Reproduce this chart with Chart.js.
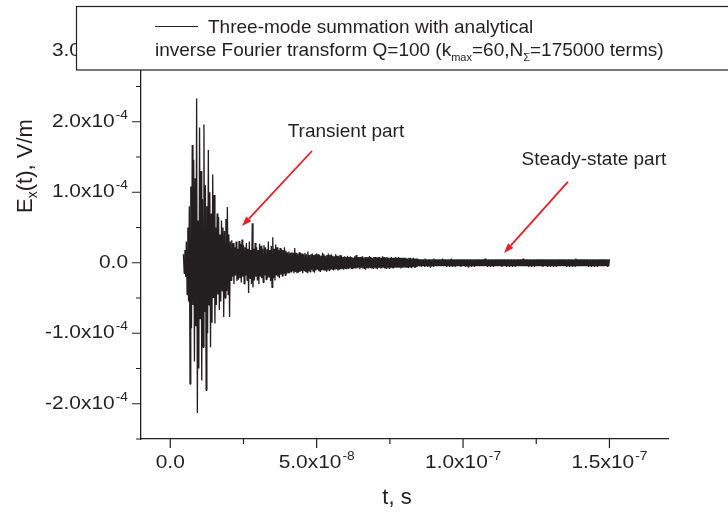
<!DOCTYPE html>
<html lang="en">
<head>
<meta charset="UTF-8" />
<title>Three-mode summation – Ex(t)</title>
<script src="https://cdn.jsdelivr.net/npm/chart.js"></script>
<style>
  html, body { margin: 0; padding: 0; background: #fff; }
  canvas { display: block; }
</style>
</head>
<body>
<canvas id="exChart" width="728" height="517"></canvas>
<script>
  // field samples in µV/m, one every 0.25 ns starting at 4.5 ns
  // each row below covers 5 ns
  const tStart = 4.5e-9;
  const tStep = 0.25e-9;
  const exMicro = [
    12, -15, 18, -20, 30, -45, 50, -55, 80, -172, 108, -93, 167, -60, 146, -140, 120, -90, 233, -213,
    60, -150, 192, -80, 130, -167, 90, -120, 196, -70, 110, -181, 80, -100, 160, -60, 100, -120, 70, -85,
    125, -50, 96, -86, 50, -60, 70, -45, 65, -67, 40, -55, 60, -40, 50, -77, 45, -50, 62, -40,
    79, -45, 40, -77, 30, -25, 32, -20, 28, -30, 22, -18, 30, -26, 20, -24, 31, -22, 27, -28,
    33, -20, 25, -30, 22, -18, 28, -25, 20, -43, 30, -22, 18, -30, 56, -35, 20, -25, 28, -20,
    22, -25, 18, -30, 27, -20, 24, -22, 20, -28, 25, -18, 22, -24, 19, -22, 30, -20, 18, -26,
    24, -35, 36, -22, 20, -25, 26, -18, 22, -20, 18, -22, 21, -17, 19, -19, 18, -16, 22, -18,
    17, -16, 15, -14, 16, -15, 14, -13, 15, -12, 14, -15, 21, -13, 14, -15, 12, -14, 15, -13,
    14, -12, 13, -15, 12, -11, 14, -13, 12, -14, 16, -12, 11, -13, 12, -10, 13, -12, 11, -14,
    12, -11, 13, -10, 12, -12, 11, -13, 10, -11, 14, -10, 12, -11, 10, -12, 11, -10, 13, -11,
    11, -10, 12, -9, 10, -11, 9, -10, 12, -9, 10, -11, 9, -10, 11, -9, 10, -9, 8, -10,
    9, -8, 8, -9, 10, -8, 8, -7, 9, -8, 8, -9, 7, -8, 9, -8, 11, -8, 8, -7,
    8, -9, 8, -7, 9, -8, 7, -8, 8, -10, 8, -7, 8, -8, 9, -7, 8, -8, 7, -8,
    8, -7, 8, -8, 7, -9, 8, -7, 8, -8, 7, -8, 9, -7, 8, -8, 7, -8, 8, -7,
    7, -8, 7, -7, 8, -7, 7, -8, 7, -7, 8, -7, 7, -7, 8, -7, 7, -8, 7, -7,
    7, -7, 7, -6, 7, -7, 6, -7, 7, -6, 7, -7, 6, -6, 7, -6, 6, -7, 6, -6,
    6, -5, 5, -5, 5, -6, 5, -5, 5, -5, 6, -5, 5, -5, 5, -5, 5, -6, 5, -5,
    5, -5, 6, -5, 5, -5, 5, -5, 5, -5, 5, -5, 5, -5, 6, -5, 5, -5, 5, -5,
    5, -5, 5, -5, 5, -5, 6, -5, 5, -5, 5, -5, 5, -5, 5, -5, 5, -5, 5, -6,
    5, -5, 5, -5, 5, -5, 5, -5, 5, -6, 5, -5, 5, -5, 5, -5, 5, -5, 5, -5,
    5, -5, 5, -5, 5, -5, 5, -5, 5, -5, 5, -5, 6, -5, 5, -5, 5, -5, 5, -5,
    5, -5, 5, -5, 5, -5, 5, -5, 5, -5, 5, -5, 5, -5, 5, -6, 5, -5, 5, -5,
    5, -5, 5, -5, 5, -5, 5, -5, 5, -5, 5, -5, 5, -5, 5, -5, 5, -5, 5, -5,
    5, -5, 5, -5, 6, -5, 5, -5, 5, -5, 5, -5, 5, -5, 5, -5, 5, -5, 5, -5,
    5, -5, 5, -5, 5, -5, 5, -5, 5, -5, 5, -6, 5, -5, 5, -5, 5, -5, 5, -5,
    5, -5, 5, -5, 5, -5, 5, -5, 5, -5, 5, -5, 5, -5, 5, -5, 5, -5, 5, -5,
    5, -5, 5, -5, 5, -5, 5, -5, 5, -5, 5, -5, 5, -5, 5, -5, 6, -5, 5, -5,
    5, -5, 5, -5, 5, -5, 5, -5, 5, -5, 5, -5, 5, -5, 5, -5, 5, -5, 5, -5,
    5, -5, 5, -5, 5, -5, 5, -5, 5, -5, 5, -5, 5, -5, 5, -5, 5, -5, 5, -5,
    5, -5, 5
  ];

  // axes
  const xMin = -1e-8, xMax = 1.7e-7;
  const yMin = -2.5e-4, yMax = 3.5e-4;
  const xMajor = [0, 5e-8, 1e-7, 1.5e-7];
  const xLabels = ['0.0', '5.0x10', '1.0x10', '1.5x10'];
  const xExps = ['', '-8', '-7', '-7'];
  const xMinor = [2.5e-8, 7.5e-8, 1.25e-7];
  const yMajor = [-2e-4, -1e-4, 0, 1e-4, 2e-4, 3e-4];
  const yLabels = ['-2.0x10', '-1.0x10', '0.0', '1.0x10', '2.0x10', '3.0x10'];
  const yExps = ['-4', '-4', '', '-4', '-4', '-4'];
  const yMinor = [-2.5e-4, -1.5e-4, -0.5e-4, 0.5e-4, 1.5e-4, 2.5e-4];

  // annotations, in data units: [tailT, tailE, headT, headE]
  const arrows = [
    [48.4e-9, 1.585e-4, 24.5e-9, 0.52e-4],
    [135.8e-9, 1.146e-4, 114e-9, 0.138e-4]
  ];
  const notes = [
    ['Transient part', 60e-9, 1.855e-4],
    ['Steady-state part', 144.7e-9, 1.457e-4]
  ];

  const FONT = '"Liberation Sans", Arial, sans-serif';
  const INK = '#231f20';

  const points = exMicro.map((v, i) => ({ x: tStart + i * tStep, y: v * 1e-6 }));

  // mantissa with raised exponent; tick font in the source is a bit wide, hence the stretch
  function sci(ctx, x, y, mant, exp, align) {
    const sx = 1.1;
    ctx.font = '19px ' + FONT;
    const w1 = ctx.measureText(mant).width;
    ctx.font = '12.5px ' + FONT;
    const w2 = exp ? ctx.measureText(exp).width + 1 : 0;
    const total = (w1 + w2) * sx;
    const x0 = align === 'right' ? x - total : x - total / 2;
    ctx.save();
    ctx.translate(x0, y);
    ctx.scale(sx, 1);
    ctx.textAlign = 'left';
    ctx.textBaseline = 'middle';
    ctx.font = '19px ' + FONT;
    ctx.fillText(mant, 0, 0);
    if (exp) {
      ctx.font = '12.5px ' + FONT;
      ctx.fillText(exp, w1 + 1, -6.5);
    }
    ctx.restore();
  }

  const decor = {
    id: 'decor',
    afterDraw(chart) {
      const { ctx, chartArea: a } = chart;
      const xs = chart.scales.x, ys = chart.scales.y;
      ctx.save();

      // tick marks, outward
      ctx.strokeStyle = INK;
      ctx.lineWidth = 1.2;
      ctx.beginPath();
      yMajor.forEach(v => { const p = ys.getPixelForValue(v); ctx.moveTo(a.left, p); ctx.lineTo(a.left - 9, p); });
      yMinor.forEach(v => { const p = ys.getPixelForValue(v); ctx.moveTo(a.left, p); ctx.lineTo(a.left - 5, p); });
      xMajor.forEach(v => { const p = xs.getPixelForValue(v); ctx.moveTo(p, a.bottom); ctx.lineTo(p, a.bottom + 9); });
      xMinor.forEach(v => { const p = xs.getPixelForValue(v); ctx.moveTo(p, a.bottom); ctx.lineTo(p, a.bottom + 5); });
      ctx.stroke();

      // tick labels
      ctx.fillStyle = INK;
      yMajor.forEach((v, i) => sci(ctx, a.left - 13, ys.getPixelForValue(v), yLabels[i], yExps[i], 'right'));
      xMajor.forEach((v, i) => sci(ctx, xs.getPixelForValue(v), a.bottom + 24, xLabels[i], xExps[i], 'center'));

      // axis titles
      ctx.font = '22px ' + FONT;
      ctx.textAlign = 'center';
      ctx.textBaseline = 'middle';
      ctx.fillText('t, s', 397, 498);

      ctx.save();
      ctx.translate(32, 166);
      ctx.rotate(-Math.PI / 2);
      ctx.textBaseline = 'alphabetic';
      ctx.textAlign = 'left';
      ctx.font = '22px ' + FONT;
      const wE = ctx.measureText('E').width;
      const wRest = ctx.measureText('(t), V/m').width;
      ctx.font = '14px ' + FONT;
      const wx = ctx.measureText('x').width;
      const sx = -(wE + wx + wRest) / 2;
      ctx.font = '22px ' + FONT;
      ctx.fillText('E', sx, 0);
      ctx.font = '14px ' + FONT;
      ctx.fillText('x', sx + wE, 5);
      ctx.font = '22px ' + FONT;
      ctx.fillText('(t), V/m', sx + wE + wx, 0);
      ctx.restore();

      // red arrows
      ctx.strokeStyle = '#ed1c24';
      ctx.fillStyle = '#ed1c24';
      ctx.lineWidth = 1.8;
      arrows.forEach(([t0, e0, t1, e1]) => {
        const x0 = xs.getPixelForValue(t0), y0 = ys.getPixelForValue(e0);
        const x1 = xs.getPixelForValue(t1), y1 = ys.getPixelForValue(e1);
        const ang = Math.atan2(y1 - y0, x1 - x0);
        const L = 10, W = 3.5;
        const bx = x1 - L * Math.cos(ang), by = y1 - L * Math.sin(ang);
        ctx.beginPath();
        ctx.moveTo(x0, y0);
        ctx.lineTo(bx, by);
        ctx.stroke();
        ctx.beginPath();
        ctx.moveTo(x1, y1);
        ctx.lineTo(bx + W * Math.sin(ang), by - W * Math.cos(ang));
        ctx.lineTo(bx - W * Math.sin(ang), by + W * Math.cos(ang));
        ctx.closePath();
        ctx.fill();
      });

      ctx.fillStyle = INK;
      ctx.font = '19px ' + FONT;
      ctx.textAlign = 'center';
      ctx.textBaseline = 'middle';
      notes.forEach(([txt, t, e]) => ctx.fillText(txt, xs.getPixelForValue(t), ys.getPixelForValue(e)));

      // legend box (covers the top of the y axis)
      ctx.fillStyle = '#fff';
      ctx.fillRect(76, 6.5, 700, 63.5);
      ctx.strokeStyle = INK;
      ctx.lineWidth = 1.2;
      ctx.strokeRect(76.5, 6.5, 700, 63.5);
      ctx.beginPath();
      ctx.moveTo(155, 26.5);
      ctx.lineTo(198, 26.5);
      ctx.stroke();

      ctx.fillStyle = INK;
      ctx.textAlign = 'left';
      ctx.textBaseline = 'alphabetic';
      ctx.font = '19px ' + FONT;
      ctx.fillText('Three-mode summation with analytical', 208, 33);

      const parts = [
        ['inverse Fourier transform Q=100 (k', false],
        ['max', true],
        ['=60,N', false],
        ['\u03A3', true],
        ['=175000 terms)', false]
      ];
      let lx = 155;
      parts.forEach(([s, sub]) => {
        ctx.font = (sub ? '11px ' : '19px ') + FONT;
        ctx.fillText(s, lx, sub ? 61 : 56);
        lx += ctx.measureText(s).width;
      });

      ctx.restore();
    }
  };

  new Chart(document.getElementById('exChart'), {
    type: 'line',
    data: {
      datasets: [{
        data: points,
        borderColor: INK,
        borderWidth: 1.3,
        borderJoinStyle: 'bevel',
        pointRadius: 0,
        fill: false,
        tension: 0
      }]
    },
    options: {
      responsive: false,
      animation: false,
      events: [],
      layout: { padding: { left: 141, right: 60, top: 16, bottom: 78 } },
      plugins: { legend: { display: false }, tooltip: { enabled: false } },
      scales: {
        x: {
          type: 'linear', min: xMin, max: xMax,
          grid: { display: false, drawTicks: false },
          ticks: { display: false },
          border: { display: true, color: INK, width: 1.3 }
        },
        y: {
          type: 'linear', min: yMin, max: yMax,
          grid: { display: false, drawTicks: false },
          ticks: { display: false },
          border: { display: true, color: INK, width: 1.3 }
        }
      }
    },
    plugins: [decor]
  });
</script>
</body>
</html>
